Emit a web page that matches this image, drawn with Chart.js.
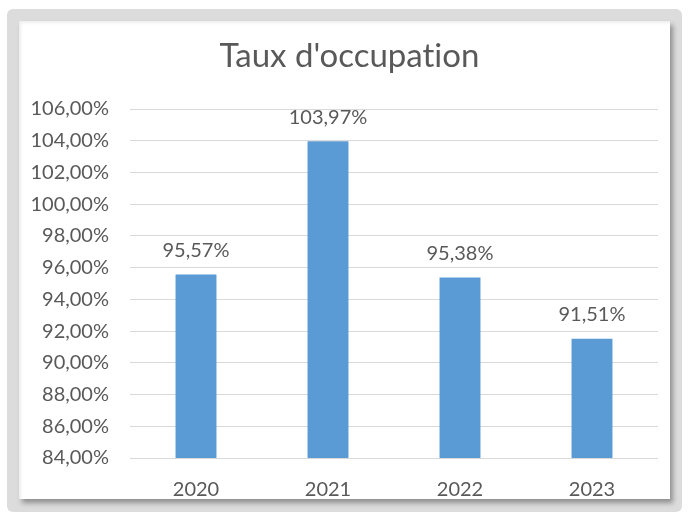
<!DOCTYPE html>
<html>
<head>
<meta charset="utf-8">
<script src="https://cdn.jsdelivr.net/npm/chart.js@4"></script>
<style>
  body { margin: 0; background: #ffffff; }
  #frame {
    position: absolute; left: 7px; top: 9px; width: 675px; height: 503px;
    background: #dcdcdc; border-radius: 6px;
  }
  #panel {
    position: absolute; left: 19px; top: 21px; width: 651px; height: 478px;
    background: #ffffff;
    box-shadow: 3px 4px 5px rgba(0,0,0,0.35), inset 2px 2px 3px rgba(0,0,0,0.07);
  }
  canvas { position: absolute; left: 0; top: 0; }
</style>
</head>
<body>
<div id="frame"></div>
<div id="panel"><canvas id="occChart" width="651" height="490"></canvas></div>
<script>
// Data
const years = ['2020', '2021', '2022', '2023'];
const occupancy = [95.57, 103.97, 95.38, 91.51];
const yMin = 84;
const yMax = 106;
const yStep = 2;
const chartTitle = "Taux d'occupation";

const textColor = '#595959';
const fontFamily = 'Lato, "Open Sans", sans-serif';

function frPercent(v) {
    return v.toFixed(2).replace('.', ',') + '%';
}

// Title drawn by hand so it sits where Excel put it (no "ti" ligature)
const titlePlugin = {
    id: 'titlePlugin',
    beforeDraw(chart) {
        const ctx = chart.ctx;
        ctx.save();
        ctx.textRendering = 'optimizeSpeed';
        ctx.font = '33px ' + fontFamily;
        ctx.fillStyle = textColor;
        ctx.textAlign = 'center';
        ctx.textBaseline = 'alphabetic';
        ctx.fillText(chartTitle, 330.5, 46);
        ctx.restore();
    }
};

// Draw the value above each bar
const barLabels = {
    id: 'barLabels',
    afterDatasetsDraw(chart) {
        const ctx = chart.ctx;
        const meta = chart.getDatasetMeta(0);
        ctx.save();
        ctx.font = '20px ' + fontFamily;
        ctx.fillStyle = textColor;
        ctx.textAlign = 'center';
        ctx.textBaseline = 'middle';
        meta.data.forEach((bar, i) => {
            ctx.fillText(frPercent(occupancy[i]), bar.x, bar.y - 24);
        });
        ctx.restore();
    }
};

const ctx = document.getElementById('occChart').getContext('2d');
const occChart = new Chart(ctx, {
    type: 'bar',
    data: {
        labels: years,
        datasets: [{
            data: occupancy,
            backgroundColor: '#5b9bd5',
            barPercentage: 0.31,
            categoryPercentage: 1
        }]
    },
    options: {
        responsive: false,
        animation: false,
        layout: { padding: { left: 0, right: 12, top: 88, bottom: 14 } },
        scales: {
            x: {
                grid: { display: false },
                border: { display: false },
                ticks: {
                    color: textColor,
                    font: { size: 20, family: fontFamily },
                    padding: 12
                },
                afterFit(scale) { scale.height = 39; }
            },
            y: {
                min: yMin,
                max: yMax,
                grid: { color: '#d9d9d9', drawTicks: false },
                border: { display: false },
                ticks: {
                    stepSize: yStep,
                    color: textColor,
                    font: { size: 20, family: fontFamily },
                    padding: 21,
                    callback: (v) => frPercent(v)
                },
                afterFit(scale) { scale.width = 111; }
            }
        },
        plugins: {
            legend: { display: false },
            tooltip: { enabled: false },
            title: { display: false }
        }
    },
    plugins: [titlePlugin, barLabels]
});
</script>
</body>
</html>
